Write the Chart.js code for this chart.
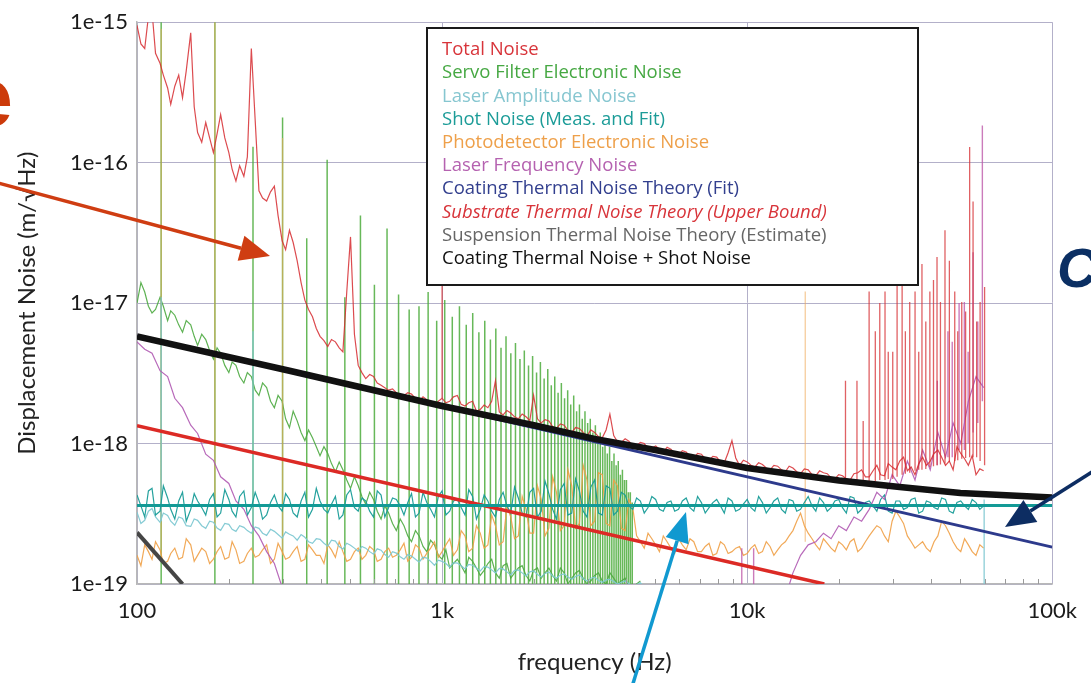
<!DOCTYPE html>
<html>
<head>
<meta charset="utf-8">
<script src="https://cdn.jsdelivr.net/npm/chart.js@4/dist/chart.umd.min.js"></script>
<style>
  html, body { margin: 0; padding: 0; background: #fff; }
  #wrap { width: 1091px; height: 683px; }
</style>
</head>
<body>
<div id="wrap"><canvas id="c" width="1091" height="683"></canvas></div>
<script>
// all noise values are in units of 1e-19 m/√Hz
const U = 1e-19;

const xTickValues = [100, 1000, 10000, 100000];
const xTickLabels = ['100', '1k', '10k', '100k'];
const xMinorTicks = [200, 300, 400, 500, 600, 700, 800, 900, 2000, 3000, 4000, 5000, 6000, 7000, 8000, 9000,
  20000, 30000, 40000, 50000, 60000, 70000, 80000, 90000];
const yTickValues = [1e-19, 1e-18, 1e-17, 1e-16, 1e-15];
const yTickLabels = ['1e-19', '1e-18', '1e-17', '1e-16', '1e-15'];

const seriesNames = ['Total Noise', 'Servo Filter Electronic Noise', 'Laser Amplitude Noise',
  'Shot Noise (Meas. and Fit)', 'Photodetector Electronic Noise', 'Laser Frequency Noise',
  'Coating Thermal Noise Theory (Fit)', 'Substrate Thermal Noise Theory (Upper Bound)',
  'Suspension Thermal Noise Theory (Estimate)', 'Coating Thermal Noise + Shot Noise'];
const seriesColors = ['#d8343a', '#46a843', '#86c6d0', '#1c9c98', '#eea04a', '#b562b0',
  '#323f8e', '#d8343a', '#666666', '#111111'];

// measured spectra sampled on this frequency grid (Hz) ...
const freqs = [100, 106, 112, 119, 126, 133, 141, 150, 158, 168, 178, 188, 200, 211, 224, 237, 251, 266, 282, 299,
  316, 335, 355, 376, 398, 422, 447, 473, 501, 531, 562, 596, 631, 668, 708, 750, 794, 841, 891, 944,
  1000, 1059, 1122, 1189, 1259, 1334, 1413, 1496, 1585, 1679, 1778, 1884, 1995, 2113, 2239, 2371, 2512, 2661, 2818, 2985,
  3162, 3350, 3548, 3758, 3981, 4217, 4467, 4732, 5012, 5309, 5623, 5957, 6310, 6683, 7079, 7499, 7943, 8414, 8913, 9441,
  10000, 10593, 11220, 11885, 12589, 13335, 14125, 14962, 15849, 16788, 17783, 18836, 19953, 21135, 22387, 23714, 25119, 26607, 28184, 29854,
  31623, 33497, 35481, 37584, 39811, 42170, 44668, 47315, 50119, 53088, 56234, 59566];
// ... and at the points half way between them
const freqsMid = [103, 109, 115, 122, 129, 137, 145, 154, 163, 173, 183, 194, 205, 217, 230, 244, 258, 274, 290, 307,
  325, 345, 365, 387, 410, 434, 460, 487, 516, 546, 579, 613, 649, 688, 729, 772, 818, 866, 917, 972,
  1029, 1090, 1155, 1223, 1296, 1373, 1454, 1540, 1631, 1728, 1830, 1939, 2054, 2175, 2304, 2441, 2585, 2739, 2901, 3073,
  3255, 3448, 3652, 3868, 4097, 4340, 4598, 4870, 5158, 5464, 5788, 6131, 6494, 6878, 7286, 7718, 8175, 8660, 9173, 9716,
  10292, 10902, 11548, 12232, 12957, 13725, 14538, 15399, 16312, 17278, 18302, 19386, 20535, 21752, 23041, 24406, 25852, 27384, 29007, 30726,
  32546, 34475, 36517, 38681, 40973, 43401, 45973, 48697, 51582, 54639, 57877];

const totalNoise = [9500, 6500, 12000, 5100, 3400, 3500, 2900, 8400, 1640, 1930,
  1180, 2200, 1180, 740, 800, 6500, 630, 533, 680, 278,
  330, 200, 105, 80, 58, 49, 53, 45, 296, 36,
  29, 30, 26, 24, 23, 22, 22.5, 20, 20.5, 18.8,
  21, 20, 22, 18.5, 20, 17.5, 18, 28, 16, 16.5,
  15, 15.5, 22, 14, 14.5, 12.8, 13.5, 12.0, 12.8, 11.3,
  12.0, 11, 16.2, 10.3, 10.8, 9.6, 10.2, 9.2, 9.6, 8.7,
  9.1, 8.3, 8.7, 7.9, 8.4, 7.6, 8.0, 7.3, 10.5, 7.0,
  7.4, 6.8, 7.1, 6.5, 6.9, 6.3, 6.7, 6.1, 6.5, 5.9,
  6.2, 5.7, 6.0, 5.6, 6.1, 6.5, 5.8, 7.0, 5.9, 6.8,
  7.5, 6.4, 6.0, 8.0, 7.5, 9.0, 7.0, 6.5, 8.5, 7.0, 6.0, 6.4];
const totalNoiseMid = [7000, 11000, 6000, 4200, 2600, 4200, 4500, 2500, 1400, 1500,
  1600, 1500, 900, 950, 1100, 2000, 560, 620, 420, 240,
  270, 140, 90, 66, 54, 55, 48, 120, 60, 32,
  31, 27, 25, 24.5, 21.5, 23, 21, 21.5, 19.5, 20,
  19.5, 21.5, 19, 19.5, 17, 18.8, 20, 16.8, 17.2, 15.5,
  16.2, 14.6, 15, 14.8, 13.2, 13.8, 12.4, 13, 12, 12.5,
  11.2, 12.5, 11.4, 10.2, 10.4, 9.7, 10, 9.3, 9.1, 9.4,
  8.5, 8.9, 8.1, 8.5, 7.8, 8.1, 7.4, 8.6, 7.9, 7.6,
  7.0, 7.3, 6.7, 7.0, 6.5, 6.9, 6.3, 6.6, 6.0, 6.4,
  6.1, 5.6, 5.9, 5.5, 6.2, 5.8, 6.4, 6.0, 7.2, 6.5,
  8.0, 6.8, 7.2, 7.0, 8.5, 8.0, 7.5, 9.5, 7.8, 8.2, 6.6];

const servoNoise = [100, 120, 85, 110, 75, 82, 62, 70, 50, 55,
  40, 44, 32, 36, 27, 30, 22, 25, 18, 20,
  13, 14.5, 10.5, 11, 8.2, 8.5, 6.3, 6.5, 4.8, 5.0,
  3.7, 4.0, 2.9, 3.2, 2.4, 2.6, 2.0, 2.2, 1.7, 1.9,
  1.5, 1.3, 1.5, 1.2, 1.45, 1.15, 1.4, 1.2, 1.35, 1.1,
  1.3, 1.15, 1.25, 1.1, 1.3, 1.05, 1.2, 1.1, 1.25, 1.0,
  1.15, 1.05, 1.2, 1.0, 1.1, 0.95, 1.05];
const servoNoiseMid = [140, 95, 90, 95, 88, 70, 75, 58, 60, 46,
  48, 36, 38, 30, 32, 24, 27, 20, 22, 15,
  17, 12, 12.5, 9.5, 9.5, 7.2, 7.4, 5.5, 5.8, 4.2,
  4.5, 3.3, 3.6, 2.7, 2.9, 2.2, 2.4, 1.85, 2.05, 1.6,
  1.75, 1.4, 1.35, 1.55, 1.3, 1.25, 1.5, 1.1, 1.4, 1.2,
  1.35, 1.05, 1.3, 1.2, 1.15, 1.3, 1.0, 1.2, 1.1, 1.05,
  1.2, 1.0, 1.1, 1.05, 0.95, 1.0];

const laserAmpNoise = [3.24, 2.84, 3.45, 2.75, 3.08, 2.62, 2.93, 2.57, 2.84, 2.49,
  2.75, 2.41, 2.66, 2.37, 2.53, 2.30, 2.49, 2.22, 2.37, 2.12,
  2.26, 2.05, 2.15, 1.95, 2.08, 1.86, 2.02, 1.77, 1.89, 1.71,
  1.80, 1.63, 1.74, 1.55, 1.66, 1.50, 1.58, 1.43, 1.53, 1.36,
  1.45, 1.32, 1.41, 1.28, 1.36, 1.24, 1.32, 1.20, 1.28, 1.16,
  1.26, 1.14, 1.24, 1.12, 1.22, 1.10, 1.18, 1.08, 1.16, 1.05,
  1.12, 1.03, 1.08, 1.0, 1.05, 0.97, 1.02, 0.9];
const laserAmpMid = [2.7, 3.3, 3.0, 3.2, 2.8, 3.0, 2.6, 2.9, 2.6, 2.8,
  2.5, 2.7, 2.45, 2.6, 2.4, 2.55, 2.3, 2.45, 2.25, 2.35,
  2.2, 2.25, 2.0, 2.1, 1.95, 2.05, 1.85, 1.95, 1.8, 1.85,
  1.7, 1.78, 1.62, 1.7, 1.56, 1.62, 1.5, 1.55, 1.45, 1.48,
  1.4, 1.42, 1.35, 1.38, 1.3, 1.33, 1.26, 1.29, 1.22, 1.25,
  1.2, 1.22, 1.17, 1.19, 1.14, 1.16, 1.12, 1.13, 1.09, 1.1,
  1.06, 1.07, 1.04, 1.03, 1.01, 0.99, 0.95];

const shotMeas = [4.3, 3.0, 4.8, 3.3, 4.1, 2.9, 4.5, 3.4, 3.9, 3.1,
  4.4, 3.2, 4.0, 3.0, 4.6, 3.5, 3.8, 3.1, 4.3, 3.3,
  4.0, 3.0, 4.5, 3.4, 3.9, 3.2, 4.2, 3.1, 4.7, 3.3,
  3.9, 3.0, 4.3, 3.5, 4.0, 3.1, 4.4, 3.2, 3.8, 3.0,
  4.6, 3.3, 4.0, 3.1, 4.2, 3.4, 3.9, 3.0, 4.5, 3.2,
  4.1, 3.0, 4.8, 3.3, 4.4, 2.9, 5.2, 3.2, 4.6, 3.0,
  5.5, 3.1, 4.8, 3.3, 4.3, 3.4, 3.9, 3.5, 4.0, 3.3,
  3.9, 3.4, 4.1, 3.3, 3.8, 3.5, 4.0, 3.2, 3.9, 3.4,
  4.0, 3.3, 3.8, 3.5, 4.1, 3.2, 3.9, 3.4, 4.2, 3.3,
  3.8, 3.5, 4.0, 3.2, 4.1, 3.4, 3.9, 3.3, 4.3, 3.2,
  3.9, 3.5, 4.1, 3.3, 3.8, 3.4, 4.0, 3.2, 3.9, 3.4, 3.8, 3.6];
const shotMeasMid = [3.6, 4.6, 3.1, 5.0, 3.4, 3.9, 2.8, 4.4, 3.5, 4.0,
  3.0, 4.7, 3.3, 4.2, 3.1, 4.5, 2.9, 3.8, 3.6, 4.4,
  3.2, 3.9, 3.0, 4.8, 3.4, 3.7, 2.9, 4.3, 3.5, 4.1,
  3.3, 4.6, 3.0, 4.1, 3.6, 3.8, 3.0, 4.5, 3.4, 4.2,
  3.1, 3.9, 3.5, 4.7, 2.9, 4.3, 3.3, 4.0, 3.6, 4.9,
  3.2, 4.5, 3.0, 5.4, 3.4, 4.7, 3.1, 5.6, 3.3, 4.9,
  3.2, 5.0, 3.1, 4.5, 3.6, 4.1, 3.2, 4.2, 3.4, 3.8,
  3.3, 3.9, 3.5, 4.2, 3.2, 3.8, 3.6, 4.1, 3.3, 3.7,
  3.5, 4.2, 3.2, 3.9, 3.4, 4.0, 3.3, 3.8, 3.6, 4.1,
  3.3, 3.9, 3.5, 4.2, 3.2, 3.8, 3.6, 4.0, 3.3, 3.9,
  3.4, 4.0, 3.2, 3.9, 3.5, 4.1, 3.3, 3.8, 3.6, 4.0, 3.4];

const pdNoise = [1.6, 1.9, 1.5, 1.75, 1.45, 1.8, 1.55, 1.9, 1.6, 1.7,
  1.5, 1.85, 1.55, 1.75, 1.45, 1.8, 1.6, 1.9, 1.5, 1.7,
  1.55, 1.85, 1.5, 1.75, 1.6, 1.9, 1.55, 1.7, 1.5, 1.8,
  1.6, 1.75, 1.5, 1.8, 1.6, 1.95, 1.55, 1.8, 1.65, 2.0,
  1.7, 2.1, 1.75, 2.2, 1.8, 2.3, 1.9, 2.6, 2.0, 3.0,
  2.2, 3.4, 2.3, 4.0, 2.5, 4.5, 2.6, 5.0, 2.7, 5.5,
  2.8, 6.0, 2.6, 5.0, 2.4, 3.5, 2.0, 2.3, 1.9, 2.2,
  1.8, 2.1, 1.75, 2.0, 1.7, 1.95, 1.65, 1.9, 1.7, 1.85,
  1.65, 1.9, 1.7, 1.85, 1.75, 2.0, 2.4, 3.2, 2.3, 1.9,
  2.1, 1.8, 2.0, 1.75, 2.1, 1.8, 2.2, 2.6, 2.2, 2.8,
  3.0, 2.2, 1.8, 2.0, 1.7, 2.2, 2.6, 2.0, 1.7, 1.9, 1.6, 1.8];
const pdNoiseMid = [1.35, 1.7, 2.0, 1.4, 1.65, 1.5, 2.1, 1.45, 1.8, 1.4,
  1.7, 1.5, 2.0, 1.4, 1.65, 1.55, 1.75, 1.4, 1.95, 1.5,
  1.7, 1.45, 1.9, 1.6, 1.4, 1.75, 2.0, 1.45, 1.7, 1.5,
  1.85, 1.45, 1.7, 1.55, 1.75, 1.45, 1.9, 1.5, 1.8, 1.55,
  1.9, 1.6, 2.4, 1.7, 2.6, 1.8, 3.1, 1.9, 3.6, 2.1,
  4.2, 2.3, 5.0, 2.2, 5.8, 2.4, 6.5, 2.5, 7.0, 2.6,
  6.2, 2.7, 5.5, 2.5, 4.0, 2.2, 1.8, 2.1, 1.7, 2.0,
  1.65, 1.9, 2.1, 1.7, 1.85, 1.6, 2.0, 1.65, 1.8, 1.6,
  1.8, 1.65, 2.0, 1.6, 1.9, 2.2, 2.8, 2.6, 2.1, 1.75,
  1.95, 1.7, 1.9, 2.0, 1.7, 2.0, 2.4, 2.5, 2.0, 3.3,
  2.7, 2.0, 1.9, 1.8, 2.0, 2.8, 2.3, 1.8, 2.1, 1.7, 1.9];

const laserFreqNoise = [53, 47, 44, 33, 30, 21, 18, 13.5, 11.8, 8.4,
  7.6, 5.8, 5.2, 3.9, 3.4, 2.6, 2.2, 1.7, 1.4, 0.95,
  null, null, null, null, null, null, null, null, null, null,
  null, null, null, null, null, null, null, null, null, null,
  null, null, null, null, null, null, null, null, null, null,
  null, null, null, null, null, null, null, null, null, null,
  null, null, null, null, null, null, null, null, null, null,
  null, null, null, null, null, null, null, null, null, null,
  null, null, null, null, null, 0.8, 1.2, 1.6, 1.9, 2.0,
  2.3, 2.1, 2.6, 2.4, 3.0, 2.8, 3.4, 4.5, 4.0, 6.0,
  5.0, 7.5, 5.5, 9, 6.5, 12, 8, 14, 10, 20, 30, 25];

// narrow lines (harmonic pickup and resonances): frequency, foot, peak
const servoSpikeHz = [120, 180, 240, 300, 360, 420, 480, 540, 600, 660, 720, 780, 840, 900, 960,
  1020, 1080, 1140, 1200, 1260, 1320, 1380, 1440, 1500, 1560, 1620, 1680, 1740, 1800, 1860, 1920, 1980,
  2040, 2100, 2160, 2220, 2280, 2340, 2400, 2460, 2520, 2580, 2640, 2700, 2760, 2820, 2880, 2940,
  3000, 3060, 3120, 3180, 3240, 3300, 3360, 3420, 3480, 3540, 3600, 3660, 3720, 3780, 3840, 3900, 3960,
  4020, 4080, 4140, 4200];
const servoSpikeTop = [12000, 12000, 1300, 2100, 290, 1050, 110, 420, 135, 340, 115, 90, 95, 120, 75,
  105, 80, 95, 70, 85, 62, 75, 55, 66, 48, 58, 44, 52, 40, 46, 36, 42,
  32, 38, 29, 34, 26, 30, 23, 27, 21, 24, 19, 22, 17, 19, 15, 17,
  14, 15, 12, 13.5, 11, 12, 9.5, 10.5, 8.5, 9.5, 7.5, 8.5, 7, 7.5, 6, 6.5, 5.5,
  5.5, 4.5, 4.5, 3.8];
const servoSpikeFoot = servoSpikeHz.map(() => 0.9);

const totalSpikeHz = [1000, 21000, 22900, 24000, 25100, 26300, 27200, 28300, 29000, 30000,
  31000, 32200, 33000, 34100, 35500, 36500, 37400, 38500, 39700, 40800,
  41900, 43000, 44500, 46000, 47900, 49000, 50500, 52000, 53600, 55000,
  56500, 58000, 60000];
const totalSpikeTop = [200, 28, 28, 14.5, 121, 63, 100, 121, 45, 45,
  140, 171, 63, 102, 121, 45, 190, 74, 121, 146,
  213, 102, 330, 200, 121, 63, 102, 87, 1290, 530,
  74, 102, 130];
const totalSpikeFoot = [21, 5.6, 5.5, 5.4, 5.4, 5.4, 5.5, 5.5, 5.6, 5.6,
  5.8, 6, 6.1, 6.2, 6.4, 6.5, 6.5, 6.6, 6.8, 6.9,
  7, 7.1, 7.2, 7.4, 7.5, 7.6, 7.8, 7.9, 8, 8,
  8, 7.5, 7];

const laserFreqSpikeHz = [9600, 10500, 42000, 45500, 47000, 49500, 51500, 53000, 55000, 57000, 59000];
const laserFreqSpikeTop = [1.8, 1.8, 28, 63, 53, 100, 102, 45, 230, 74, 1840];
const laserFreqSpikeFoot = [0.9, 0.9, 7, 8, 8, 9, 9, 10, 12, 14, 20];

const laserAmpSpikeHz = [120, 240, 59800];
const laserAmpSpikeTop = [110, 63, 4.0];
const laserAmpSpikeFoot = [2.8, 2.4, 0.9];

const pdSpikeHz = [120, 180, 300, 15500];
const pdSpikeTop = [9000, 12000, 1500, 121];
const pdSpikeFoot = [1.6, 1.7, 1.6, 2.0];

// theory curves
const coatingHz = [100, 100000];
const coatingVal = [58, 1.83];
const substrateHz = [100, 17900];
const substrateVal = [13.4, 1.0];
const suspensionHz = [100, 141];
const suspensionVal = [2.33, 1.0];
const shotFitHz = [100, 100000];
const shotFitVal = [3.62, 3.62];
const sumHz = [100, 316, 1000, 2000, 3162, 5000, 10000, 20000, 31623, 50000, 100000];
const sumVal = [58, 33, 18.5, 13.5, 10.8, 9.0, 6.7, 5.46, 4.9, 4.44, 4.13];

function val(v) { return v == null ? null : v * U; }
function pts(hz, vals) {
  return hz.map((f, i) => ({ x: f, y: val(vals[i]) }));
}
// merge the main grid and the half-way grid into one trace
function trace(vals, mids) {
  const out = [];
  freqs.forEach((f, i) => {
    out.push({ x: f, y: val(vals[i]) });
    if (mids && i < mids.length) out.push({ x: freqsMid[i], y: val(mids[i]) });
  });
  return out;
}
function spikes(hz, foot, top) {
  const out = [];
  hz.forEach((f, i) => {
    out.push({ x: f, y: foot[i] * U }, { x: f, y: top[i] * U }, { x: f, y: null });
  });
  return out;
}
function ds(label, data, color, width, order) {
  return { label: label, data: data, borderColor: color, borderWidth: width, order: order,
    showLine: true, pointRadius: 0, pointHoverRadius: 0, spanGaps: false, tension: 0, clip: 0 };
}

const datasets = [
  ds(seriesNames[9], pts(sumHz, sumVal), '#111111', 6.5, 0),
  ds(seriesNames[3], pts(shotFitHz, shotFitVal), '#139a96', 3, 1),
  ds(seriesNames[8], pts(suspensionHz, suspensionVal), '#454545', 4, 2),
  ds(seriesNames[6], pts(coatingHz, coatingVal), '#2d3a8c', 3, 3),
  ds(seriesNames[7], pts(substrateHz, substrateVal), '#dc2a25', 3.5, 4),
  ds(seriesNames[0], trace(totalNoise, totalNoiseMid), 'rgba(214,44,48,0.85)', 1.2, 5),
  ds('', spikes(totalSpikeHz, totalSpikeFoot, totalSpikeTop), 'rgba(214,44,48,0.75)', 1.3, 6),
  ds(seriesNames[5], trace(laserFreqNoise, null), 'rgba(176,90,178,0.9)', 1.2, 7),
  ds('', spikes(laserFreqSpikeHz, laserFreqSpikeFoot, laserFreqSpikeTop), 'rgba(190,90,170,0.8)', 1.4, 8),
  ds('Shot Noise (Meas.)', trace(shotMeas, shotMeasMid), 'rgba(24,156,152,0.95)', 1.2, 9),
  ds(seriesNames[2], trace(laserAmpNoise, laserAmpMid), 'rgba(126,200,210,0.95)', 1.2, 10),
  ds('', spikes(laserAmpSpikeHz, laserAmpSpikeFoot, laserAmpSpikeTop), 'rgba(126,200,210,0.9)', 1.3, 11),
  ds(seriesNames[4], trace(pdNoise, pdNoiseMid), 'rgba(240,160,70,0.9)', 1.2, 12),
  ds('', spikes(pdSpikeHz, pdSpikeFoot, pdSpikeTop), 'rgba(240,170,90,0.6)', 1.3, 13),
  ds(seriesNames[1], trace(servoNoise, servoNoiseMid), 'rgba(76,170,64,0.9)', 1.2, 14),
  ds('', spikes(servoSpikeHz, servoSpikeFoot, servoSpikeTop), 'rgba(76,172,60,0.85)', 1.5, 15)
];

function arrow(ctx, x1, y1, x2, y2, color, w, hl, hw) {
  const a = Math.atan2(y2 - y1, x2 - x1);
  const bx = x2 - hl * Math.cos(a), by = y2 - hl * Math.sin(a);
  ctx.save();
  ctx.strokeStyle = color; ctx.fillStyle = color; ctx.lineWidth = w;
  ctx.beginPath(); ctx.moveTo(x1, y1); ctx.lineTo(bx, by); ctx.stroke();
  ctx.beginPath();
  ctx.moveTo(x2, y2);
  ctx.lineTo(bx + hw * Math.sin(a), by - hw * Math.cos(a));
  ctx.lineTo(bx - hw * Math.sin(a), by + hw * Math.cos(a));
  ctx.closePath(); ctx.fill();
  ctx.restore();
}

const overlay = {
  id: 'overlay',
  afterDraw(chart) {
    const ctx = chart.ctx, xs = chart.scales.x, area = chart.chartArea;
    // minor ticks on the frequency axis
    ctx.save();
    ctx.strokeStyle = '#9a9a9a'; ctx.lineWidth = 1;
    xMinorTicks.forEach(v => {
      const px = Math.round(xs.getPixelForValue(v)) + 0.5;
      ctx.beginPath(); ctx.moveTo(px, area.bottom); ctx.lineTo(px, area.bottom - 5); ctx.stroke();
    });
    ctx.restore();

    // legend box
    ctx.save();
    ctx.fillStyle = '#fff';
    ctx.fillRect(427, 28, 491, 257);
    ctx.strokeStyle = '#1a1a1a'; ctx.lineWidth = 2;
    ctx.strokeRect(427, 28, 491, 257);
    ctx.textBaseline = 'middle'; ctx.textAlign = 'left';
    seriesNames.forEach((name, i) => {
      ctx.font = (i === 7 ? 'italic ' : '') + '18.5px "Open Sans"';
      ctx.fillStyle = seriesColors[i];
      ctx.fillText(name, 442, 50 + i * 23.2);
    });
    ctx.restore();

    // slide annotations
    ctx.save();
    ctx.font = 'bold 84px "Liberation Sans"';
    ctx.fillStyle = '#cc3a0a'; ctx.textAlign = 'right'; ctx.textBaseline = 'alphabetic';
    ctx.fillText('e', 13, 126);
    ctx.font = 'italic bold 56px "Liberation Sans"';
    ctx.fillStyle = '#0b2f63'; ctx.textAlign = 'left';
    ctx.fillText('C', 1057, 287);
    ctx.restore();
    arrow(ctx, -2, 183, 270, 256, '#cf3d12', 3.5, 30, 13);
    arrow(ctx, 1100, 467, 1005, 527, '#0d2d62', 3.5, 30, 13);
    arrow(ctx, 631, 690, 686, 512, '#1199d0', 3.5, 30, 12);
  }
};

const tickFont = { family: 'Lato', size: 22 };
const titleFont = { family: 'Lato', size: 24 };

new Chart(document.getElementById('c'), {
  type: 'scatter',
  data: { datasets: datasets },
  options: {
    responsive: false,
    animation: false,
    devicePixelRatio: 1,
    layout: { padding: { top: 19, right: 35, bottom: 0, left: 0 } },
    plugins: { legend: { display: false }, tooltip: { enabled: false } },
    scales: {
      x: {
        type: 'logarithmic', min: 100, max: 100000,
        afterBuildTicks: s => { s.ticks = xTickValues.map(v => ({ value: v })); },
        afterFit: s => { s.height = 99; },
        ticks: { autoSkip: false, maxRotation: 0, padding: 14, color: '#1a1a1a', font: tickFont,
          callback: (v, i) => xTickLabels[i] },
        grid: { color: '#b3b0c9', lineWidth: 1, drawTicks: false },
        border: { display: true, color: '#b8b8b8', width: 1.5 },
        title: { display: true, text: 'frequency (Hz)', color: '#222', font: titleFont, padding: { top: 0, bottom: 6 } }
      },
      y: {
        type: 'logarithmic', min: 1e-19, max: 1e-15,
        afterBuildTicks: s => { s.ticks = yTickValues.map(v => ({ value: v })); },
        afterFit: s => { s.width = 137; },
        ticks: { autoSkip: false, padding: 9, color: '#1a1a1a', font: tickFont,
          callback: (v, i) => yTickLabels[i] },
        grid: { color: '#b3b0c9', lineWidth: 1, drawTicks: false },
        border: { display: true, color: '#b8b8b8', width: 1.5 },
        title: { display: true, text: 'Displacement Noise (m/√Hz)', color: '#222', font: titleFont, padding: { top: 13, bottom: 0 } }
      }
    }
  },
  plugins: [overlay]
});
</script>
</body>
</html>
